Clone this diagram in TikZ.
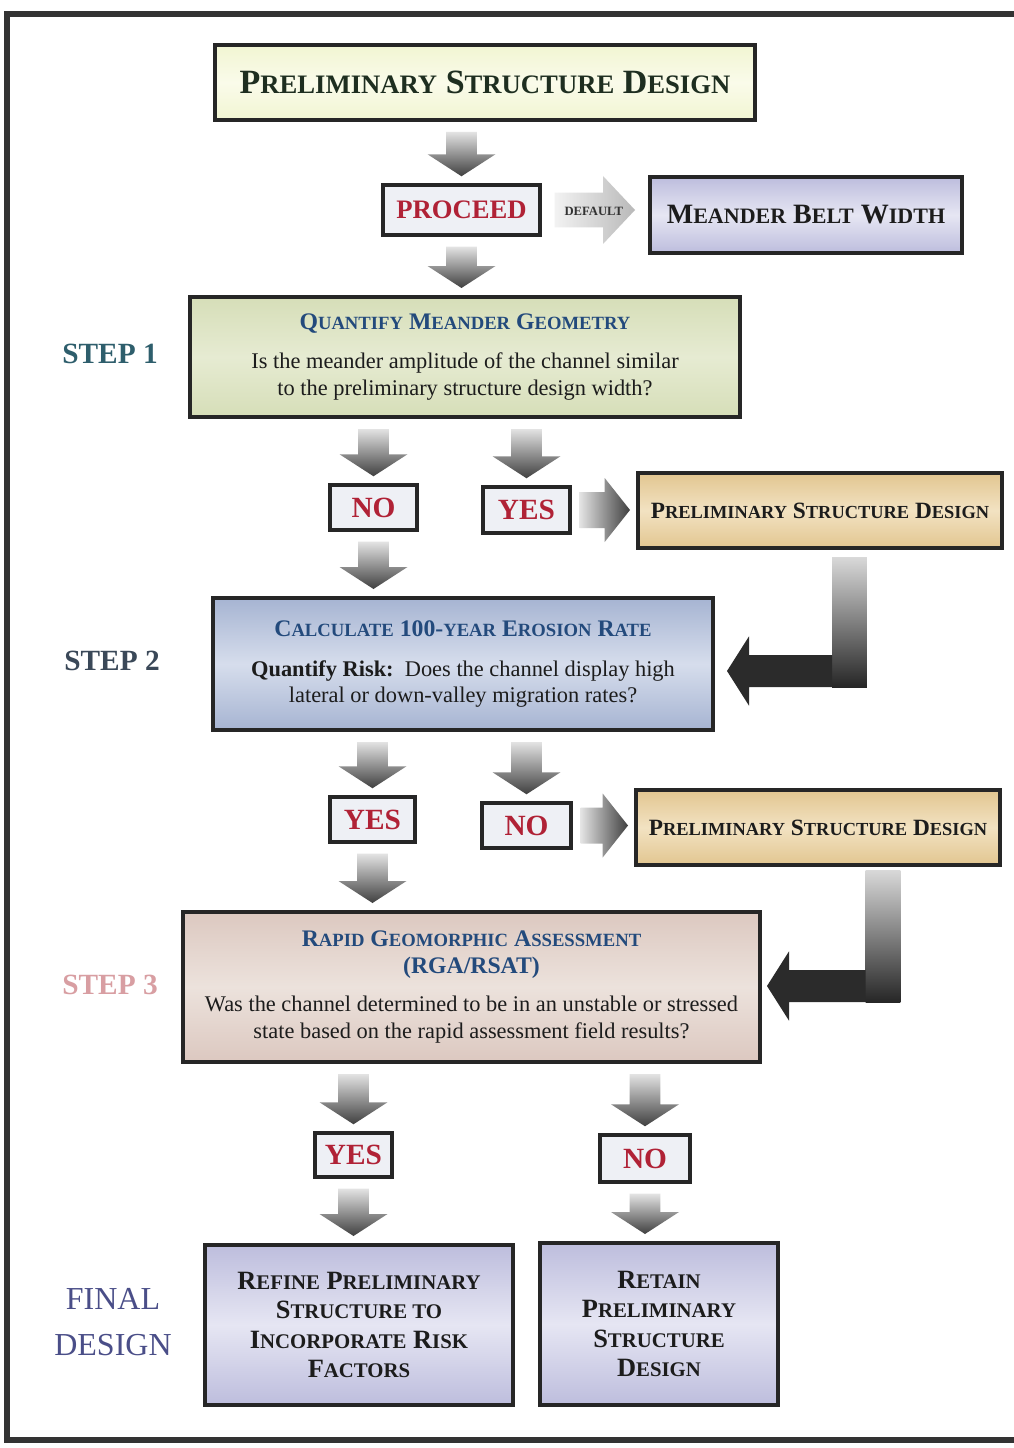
\documentclass[tikz,border=0pt]{standalone}
\usepackage{fontspec}
\setmainfont{Liberation Serif}
\usetikzlibrary{calc}
\definecolor{frame}{HTML}{333333}
\definecolor{boxline}{HTML}{262626}
\definecolor{topfill}{HTML}{F1F5D2}
\definecolor{topmid}{HTML}{FAFBEA}
\definecolor{lav}{HTML}{BDBDDD}
\definecolor{lavmid}{HTML}{E6E6F3}
\definecolor{sage}{HTML}{D6DEB8}
\definecolor{sagemid}{HTML}{E6EBD2}
\definecolor{tan}{HTML}{E2C690}
\definecolor{tanmid}{HTML}{F2E2C2}
\definecolor{bluegray}{HTML}{A6B4D2}
\definecolor{bluegraymid}{HTML}{D6DDEC}
\definecolor{pinkbox}{HTML}{DCC8C0}
\definecolor{pinkmid}{HTML}{ECE2DC}
\definecolor{ansfill}{HTML}{EEF0F5}
\definecolor{ansred}{HTML}{B02236}
\definecolor{titleblue}{HTML}{234A7C}
\definecolor{toptext}{HTML}{1E2E20}
\definecolor{darktext}{HTML}{1C1C1C}
\definecolor{stepone}{HTML}{2E5E6C}
\definecolor{steptwo}{HTML}{3A4858}
\definecolor{stepthree}{HTML}{D89EA2}
\definecolor{finalc}{HTML}{4A4E88}
\newcommand{\scs}{12}
\newcommand{\SC}[1]{{\fontsize{\scs}{\scs}\selectfont #1}}
\newcommand{\ttl}[1]{{\color{titleblue}\bfseries\fontsize{17.8}{21}\selectfont\def\scs{14}#1}}
% fat down arrow: x taken from the second point
\newcommand{\DArrow}[2]{%
  \shade[top color=gray!22, bottom color=black!75]
  let \p1=($(#1)+(0,10)$), \p2=($(#2)+(0,-7)$) in
  (\x2-11.5pt,\y1) -- (\x2+11.5pt,\y1) -- (\x2+11.5pt,\y2+16.5pt) -- (\x2+25.5pt,\y2+16.5pt)
  -- (\x2,\y2) -- (\x2-25.5pt,\y2+16.5pt) -- (\x2-11.5pt,\y2+16.5pt) -- cycle;}
% fat right arrow: y taken from the first point
\newcommand{\RArrow}[2]{%
  \shade[left color=gray!22, right color=black!75]
  let \p1=($(#1)+(8,0)$), \p2=($(#2)+(-6,0)$) in
  (\x1,\y1+13.5pt) -- (\x2-19pt,\y1+13.5pt) -- (\x2-19pt,\y1+24pt) -- (\x2,\y1)
  -- (\x2-19pt,\y1-24pt) -- (\x2-19pt,\y1-13.5pt) -- (\x1,\y1-13.5pt) -- cycle;}
% elbow arrow: down from #1, then left to tip #2
\newcommand{\EArrow}[2]{%
  \shade[top color=gray!30, bottom color=black!85]
  let \p1=(#1), \p2=(#2) in
  (\x1-13pt,\y1) rectangle (\x1+13pt,\y2-12pt);
  \fill[black!83]
  let \p1=(#1), \p2=(#2) in
  (\x1-13pt,\y2+12pt) -- (\x2+16.5pt,\y2+12pt) -- (\x2+16.5pt,\y2+26pt) -- (\x2,\y2)
  -- (\x2+16.5pt,\y2-26pt) -- (\x2+16.5pt,\y2-12pt) -- (\x1-13pt,\y2-12pt) -- cycle;}
\tikzset{
  wh/.style 2 args={minimum width=#1*0.75pt, minimum height=#2*0.75pt},
  box/.style={draw=boxline, line width=3pt, inner sep=0pt, align=center, text=darktext},
  ans/.style={box, line width=2.6pt, fill=ansfill, text=ansred,
    font=\fontsize{22}{24}\selectfont\bfseries},
  psdbox/.style={box, shade, top color=tan, bottom color=tan, middle color=tanmid,
    font=\fontsize{17.5}{20}\selectfont\bfseries\def\scs{13.8}},
  lavbox/.style={box, shade, top color=lav, bottom color=lav, middle color=lavmid},
  finaltext/.style={font=\fontsize{19.8}{22}\selectfont\bfseries\def\scs{15.6}},
  body/.style={font=\fontsize{16.8}{20}\selectfont},
  steplabel/.style={font=\fontsize{22}{26}\selectfont\bfseries, align=center},
}
\begin{document}
\begin{tikzpicture}[x=0.75pt,y=-0.75pt]
\useasboundingbox (0,0) rectangle (1013,1448);
\fill[white] (0,0) rectangle (1013,1448);
\draw[frame, line width=3.8pt] (1030,14) -- (7,14) -- (7,1440) -- (1030,1440);

% boxes
\node[box, wh={540}{75}, shade, top color=topfill, bottom color=topfill, middle color=topmid,
  text=toptext, font=\fontsize{25.5}{28}\selectfont\bfseries\def\scs{20}] (top) at (485,82.5)
  {P\SC{RELIMINARY} S\SC{TRUCTURE} D\SC{ESIGN}};
\node[ans, wh={157}{50}, font=\fontsize{20}{22}\selectfont\bfseries] (proceed) at (461.5,210) {PROCEED};
\node[lavbox, wh={312}{76}, font=\fontsize{21}{24}\selectfont\bfseries\def\scs{16.5}] (belt) at (806,215)
  {M\SC{EANDER} B\SC{ELT} W\SC{IDTH}};

\node[box, body, wh={550}{120}, shade, top color=sage, bottom color=sage, middle color=sagemid] (s1) at (465,357)
  {\ttl{Q\SC{UANTIFY} M\SC{EANDER} G\SC{EOMETRY}}\\[9pt]
   Is the meander amplitude of the channel similar\\
   to the preliminary structure design width?};
\node[ans, wh={87}{45}] (no1) at (373.5,507.5) {NO};
\node[ans, wh={87}{46}] (yes1) at (526.5,510) {YES};
\node[psdbox, wh={364}{75}] (psd1) at (820,510.5) {P\SC{RELIMINARY} S\SC{TRUCTURE} D\SC{ESIGN}};

\node[box, body, wh={500}{132}, shade, top color=bluegray, bottom color=bluegray, middle color=bluegraymid] (s2) at (463,664)
  {\ttl{C\SC{ALCULATE} 100-\SC{YEAR} E\SC{ROSION} R\SC{ATE}}\\[10pt]
   \textbf{Quantify Risk:}\ \ Does the channel display high\\
   lateral or down-valley migration rates?};
\node[ans, wh={85}{45}] (yes2) at (372.5,819.5) {YES};
\node[ans, wh={89}{45}] (no2) at (526.5,825.5) {NO};
\node[psdbox, wh={364}{75}] (psd2) at (818,827.5) {P\SC{RELIMINARY} S\SC{TRUCTURE} D\SC{ESIGN}};

\node[box, body, wh={577}{150}, shade, top color=pinkbox, bottom color=pinkbox, middle color=pinkmid] (s3) at (471.5,987)
  {\ttl{R\SC{APID} G\SC{EOMORPHIC} A\SC{SSESSMENT}}\\
   \ttl{(RGA/RSAT)}\\[8.5pt]
   Was the channel determined to be in an unstable or stressed\\
   state based on the rapid assessment field results?};
\node[ans, wh={77}{44}] (yes3) at (353.5,1155) {YES};
\node[ans, wh={90}{47}] (no3) at (645,1158.5) {NO};

\node[lavbox, finaltext, wh={308}{160}] (f1) at (359,1325)
  {R\SC{EFINE} P\SC{RELIMINARY}\\S\SC{TRUCTURE TO}\\I\SC{NCORPORATE} R\SC{ISK}\\F\SC{ACTORS}};
\node[lavbox, finaltext, wh={238}{162}] (f2) at (659,1324)
  {R\SC{ETAIN}\\P\SC{RELIMINARY}\\S\SC{TRUCTURE}\\D\SC{ESIGN}};

% step labels
\node[steplabel, text=stepone] (l1) at (110,354) {STEP 1};
\node[steplabel, text=steptwo] (l2) at (112,661) {STEP 2};
\node[steplabel, text=stepthree] (l3) at (110,985) {STEP 3};
\node[font=\fontsize{24}{34}\selectfont, align=center, text=finalc] (l4) at (113,1322) {FINAL\\DESIGN};

% default arrow
\shade[left color=gray!10, right color=gray!55]
  let \p1=($(proceed.east)+(13,0)$), \p2=($(belt.west)+(-13,0)$) in
  (\x1,\y1+13pt) -- (\x2-24pt,\y1+13pt) -- (\x2-24pt,\y1+25.5pt) -- (\x2,\y1)
  -- (\x2-24pt,\y1-25.5pt) -- (\x2-24pt,\y1-13pt) -- (\x1,\y1-13pt) -- cycle;
\node[font=\fontsize{9.5}{10}\selectfont\bfseries, text=black!80] (deftxt) at ($(proceed.east)+(52,1)$) {DEFAULT};

% down arrows
\DArrow{top.south}{proceed.north}
\DArrow{proceed.south}{proceed.south|-s1.north}
\DArrow{s1.south}{no1.north}
\DArrow{s1.south}{yes1.north}
\DArrow{no1.south}{no1.south|-s2.north}
\DArrow{s2.south}{yes2.north}
\DArrow{s2.south}{no2.north}
\DArrow{yes2.south}{yes2.south|-s3.north}
\DArrow{s3.south}{yes3.north}
\DArrow{s3.south}{no3.north}
\DArrow{yes3.south}{yes3.south|-f1.north}
\DArrow{no3.south}{no3.south|-f2.north}

% right arrows
\RArrow{yes1.east}{psd1.west}
\RArrow{no2.east}{psd2.west}

% elbow arrows
\coordinate (e1a) at ($(psd1.south)+(29.5,7)$);
\coordinate (e1b) at ($(s2.east)+(12,7)$);
\EArrow{e1a}{e1b}
\coordinate (e2a) at ($(psd2.south)+(65,3)$);
\coordinate (e2b) at ($(s3.east)+(5,-1)$);
\EArrow{e2a}{e2b}
\end{tikzpicture}
\end{document}
